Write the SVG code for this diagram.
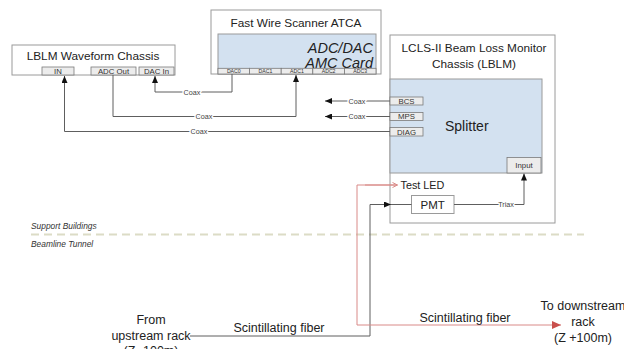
<svg xmlns="http://www.w3.org/2000/svg" width="624" height="349" viewBox="0 0 624 349">
  <style>
    text { font-family: "Liberation Sans", Arial, sans-serif; fill: #222; }
    .box { fill: #fff; stroke: #9a9a9a; stroke-width: 1; }
    .card { fill: #d3e1f0; stroke: #9a9a9a; stroke-width: 1; }
    .port { fill: #ececec; stroke: #7a7a7a; stroke-width: 0.8; }
    .title { font-size: 11.8px; text-anchor: middle; }
    .plabel { font-size: 7.8px; text-anchor: middle; fill: #333; }
    .tiny { font-size: 5.2px; text-anchor: middle; fill: #333; }
    .card-name { font-size: 14.5px; font-style: italic; text-anchor: end; }
    .wire { fill: none; stroke: #5e5e5e; stroke-width: 1; }
    .fiber { fill: none; stroke: #d98a88; stroke-width: 1; }
    .lbl { font-size: 7.2px; text-anchor: middle; fill: #444; stroke: #fff; stroke-width: 3px; paint-order: stroke; }
    .note { font-size: 12.5px; text-anchor: middle; }
    .zone { font-size: 8.4px; font-style: italic; fill: #333; }
  </style>
  <defs>
    <marker id="arr" markerUnits="userSpaceOnUse" markerWidth="7" markerHeight="6" refX="7" refY="3" orient="auto">
      <path d="M0,0 L7,3 L0,6 z" fill="#111"/>
    </marker>
    <marker id="arrRed" markerUnits="userSpaceOnUse" markerWidth="9" markerHeight="8" refX="9" refY="4" orient="auto">
      <path d="M0,0 L9,4 L0,8 z" fill="#c9504c"/>
    </marker>
    <marker id="openRed" markerUnits="userSpaceOnUse" markerWidth="6" markerHeight="6" refX="5.5" refY="3" orient="auto">
      <path d="M0.5,0.5 L5.5,3 L0.5,5.5" fill="none" stroke="#d98a88" stroke-width="1"/>
    </marker>
  </defs>

  <!-- boundary between support buildings and the tunnel -->
  <g id="zones">
    <line x1="31" y1="234.5" x2="584" y2="234.5" stroke="#dcdcc6" stroke-width="2" stroke-dasharray="8 5"/>
    <text class="zone" x="31" y="229">Support Buildings</text>
    <text class="zone" x="31" y="246.5">Beamline Tunnel</text>
  </g>

  <g id="waveform-chassis">
    <rect class="box" x="12" y="45" width="163" height="30"/>
    <text class="title" x="93" y="60">LBLM Waveform Chassis</text>
    <rect class="port" x="42" y="67" width="32" height="8"/>
    <text class="plabel" x="58" y="73.8">IN</text>
    <rect class="port" x="91" y="67" width="45" height="8"/>
    <text class="plabel" x="113.5" y="73.8">ADC Out</text>
    <rect class="port" x="139" y="67" width="35" height="8"/>
    <text class="plabel" x="156.5" y="73.8">DAC In</text>
  </g>

  <g id="atca">
    <rect class="box" x="211" y="10" width="170" height="64"/>
    <text class="title" x="296" y="27">Fast Wire Scanner ATCA</text>
    <rect class="card" x="218" y="34" width="158" height="40"/>
    <text class="card-name" x="373" y="52.5">ADC/DAC</text>
    <text class="card-name" x="373" y="67.5">AMC Card</text>
    <rect class="port" x="218" y="68.3" width="31.6" height="5.7"/>
    <rect class="port" x="249.6" y="68.3" width="31.6" height="5.7"/>
    <rect class="port" x="281.2" y="68.3" width="31.6" height="5.7"/>
    <rect class="port" x="312.8" y="68.3" width="31.6" height="5.7"/>
    <rect class="port" x="344.4" y="68.3" width="31.6" height="5.7"/>
    <text class="tiny" x="233.8" y="73">DAC0</text>
    <text class="tiny" x="265.4" y="73">DAC1</text>
    <text class="tiny" x="297" y="73">ADC1</text>
    <text class="tiny" x="328.6" y="73">ADC2</text>
    <text class="tiny" x="360.2" y="73">ADC3</text>
  </g>

  <g id="lblm-chassis">
    <rect class="box" x="390" y="35" width="165" height="188"/>
    <text class="title" x="474" y="51.5">LCLS-II Beam Loss Monitor</text>
    <text class="title" x="474" y="67.5">Chassis (LBLM)</text>
    <rect class="card" x="390" y="79" width="152" height="94"/>
    <text x="445" y="130.5" font-size="14">Splitter</text>
    <rect class="port" x="390" y="97" width="33" height="8"/>
    <text class="plabel" x="406.5" y="103.8">BCS</text>
    <rect class="port" x="390" y="112.5" width="33" height="8"/>
    <text class="plabel" x="406.5" y="119.3">MPS</text>
    <rect class="port" x="390" y="127.5" width="33" height="8.5"/>
    <text class="plabel" x="406.5" y="134.5">DIAG</text>
    <rect class="port" x="507" y="157.5" width="34" height="15.5"/>
    <text class="plabel" x="524" y="167.8">Input</text>
    <text x="400.5" y="188.5" font-size="10.8">Test LED</text>
  </g>

  <g id="pmt">
    <rect class="box" x="411.5" y="195.5" width="42.5" height="18" stroke="#777"/>
    <text x="432.7" y="209" font-size="11.5" text-anchor="middle">PMT</text>
  </g>

  <g id="connectors">
    <!-- DAC0 to DAC In -->
    <path class="wire" d="M232,74 V92 H155 V76" marker-end="url(#arr)"/>
    <text class="lbl" x="192" y="94.5">Coax</text>
    <!-- ADC Out to ADC1 -->
    <path class="wire" d="M113,75 V116.5 H296 V75" marker-end="url(#arr)"/>
    <text class="lbl" x="204" y="119">Coax</text>
    <!-- DIAG to IN -->
    <path class="wire" d="M390,131.5 H64.5 V76" marker-end="url(#arr)"/>
    <text class="lbl" x="199" y="134">Coax</text>
    <!-- BCS / MPS outputs -->
    <path class="wire" d="M390,101 H325" marker-end="url(#arr)"/>
    <text class="lbl" x="357" y="103.5">Coax</text>
    <path class="wire" d="M390,116.5 H325" marker-end="url(#arr)"/>
    <text class="lbl" x="357" y="119">Coax</text>
    <!-- PMT to splitter input -->
    <path class="wire" d="M454,204.5 H524 V173.5" marker-end="url(#arr)"/>
    <text class="lbl" x="506" y="207">Triax</text>
    <!-- scintillating fiber into PMT -->
    <path class="wire" d="M190,336 H370 V204.5 H391" marker-end="url(#arr)"/>
    <path class="wire" d="M391,204.5 H411.5"/>
    <!-- test LED fiber to downstream rack -->
    <path class="fiber" d="M397,185 H357 V325 H561" marker-end="url(#arrRed)"/>
    <path class="fiber" d="M365,185 H397.5" marker-end="url(#openRed)"/>
  </g>

  <g id="labels">
    <text class="note" x="279" y="331.5">Scintillating fiber</text>
    <text class="note" x="465" y="321.5">Scintillating fiber</text>
    <text class="note" x="151" y="324">From</text>
    <text class="note" x="151" y="339.5">upstream rack</text>
    <text class="note" x="151" y="355">(Z -100m)</text>
    <text class="note" x="583" y="310">To downstream</text>
    <text class="note" x="583" y="326">rack</text>
    <text class="note" x="583" y="342">(Z +100m)</text>
  </g>
</svg>
